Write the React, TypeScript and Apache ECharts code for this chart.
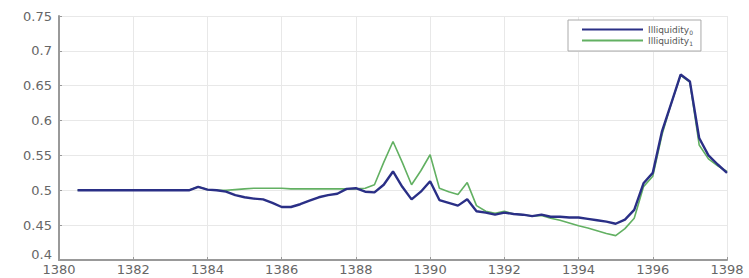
import React, { useEffect, useRef } from "react";
import * as echarts from "echarts";

const years: number[] = [];
for (let i = 0; i <= 70; i++) years.push(1380.5 + i * 0.25);

const illiquidity0: number[] = [
  0.5, 0.5, 0.5, 0.5, 0.5, 0.5, 0.5, 0.5, 0.5, 0.5, 0.5, 0.5, 0.5,
  0.505, 0.501, 0.5, 0.498, 0.493, 0.49, 0.488, 0.487, 0.482, 0.476, 0.476,
  0.48, 0.485, 0.49, 0.493, 0.495, 0.502, 0.503, 0.498, 0.497, 0.508, 0.527,
  0.505, 0.487, 0.498, 0.513, 0.486, 0.482, 0.478, 0.487, 0.47, 0.468, 0.465,
  0.468, 0.466, 0.465, 0.463, 0.465, 0.462, 0.462, 0.461, 0.461, 0.459, 0.457,
  0.455, 0.452, 0.458, 0.472, 0.51, 0.525, 0.585, 0.625, 0.666, 0.656, 0.575,
  0.55, 0.537, 0.525,
];

const illiquidity1: number[] = [
  0.5, 0.5, 0.5, 0.5, 0.5, 0.5, 0.5, 0.5, 0.5, 0.5, 0.5, 0.5, 0.5,
  0.505, 0.501, 0.5, 0.5, 0.501, 0.502, 0.503, 0.503, 0.503, 0.503, 0.502,
  0.502, 0.502, 0.502, 0.502, 0.502, 0.502, 0.502, 0.503, 0.508, 0.54, 0.57,
  0.54, 0.508, 0.528, 0.551, 0.503, 0.498, 0.494, 0.511, 0.478, 0.47, 0.467,
  0.47, 0.466, 0.465, 0.463, 0.464, 0.46, 0.457, 0.453, 0.449, 0.446, 0.442,
  0.438, 0.435, 0.445, 0.46, 0.505, 0.52, 0.58, 0.625, 0.665, 0.655, 0.565,
  0.545, 0.535, 0.527,
];

const seriesNames = ["Illiquidity0", "Illiquidity1"];

export default function App() {
  const ref = useRef<HTMLDivElement>(null);
  useEffect(() => {
    if (!ref.current) return;
    const chart = echarts.init(ref.current, undefined, { renderer: "svg" });
    const labelStyle = {
      color: "#666",
      fontFamily: "DejaVu Sans",
      fontSize: 13,
    };
    chart.setOption({
      animation: false,
      backgroundColor: "#fff",
      grid: { left: 59, right: 22, top: 16, bottom: 18, containLabel: false },
      legend: {
        data: seriesNames,
        orient: "vertical",
        left: 568,
        top: 20,
        padding: [5, 8, 5, 14],
        itemGap: 1,
        itemWidth: 61,
        itemHeight: 2,
        icon: "rect",
        borderColor: "#aaa",
        borderWidth: 1,
        borderRadius: 0,
        backgroundColor: "#fff",
        formatter: (name: string) => `{a|${name.slice(0, -1)}}{s|${name.slice(-1)}}`,
        textStyle: {
          color: "#555",
          fontFamily: "DejaVu Sans",
          fontSize: 9,
          rich: {
            a: { fontSize: 9, color: "#555", fontFamily: "DejaVu Sans" },
            s: { fontSize: 6, color: "#555", fontFamily: "DejaVu Sans", padding: [5, 0, 0, 0] },
          },
        },
      },
      xAxis: {
        type: "value",
        min: 1380,
        max: 1398,
        interval: 2,
        axisLine: { show: true, onZero: false, lineStyle: { color: "#999", width: 2 } },
        axisTick: { show: true, inside: true, length: 3, lineStyle: { color: "#999" } },
        axisLabel: { ...labelStyle, margin: 3, formatter: (v: number) => String(v) },
        splitLine: { show: true, lineStyle: { color: "#e8e8e8", width: 1 } },
      },
      yAxis: {
        type: "value",
        min: 0.4,
        max: 0.75,
        interval: 0.05,
        axisLine: { show: true, lineStyle: { color: "#999", width: 2 } },
        axisTick: { show: true, inside: true, length: 3, lineStyle: { color: "#999" } },
        axisLabel: {
          ...labelStyle,
          margin: 7,
          formatter: (v: number) => {
            const s = String(Math.round(v * 100) / 100);
            return v < 0.41 ? `{low|${s}}` : s;
          },
          rich: {
            low: { ...labelStyle, padding: [0, 0, 12, 0] },
          },
        },
        splitLine: { show: true, lineStyle: { color: "#e8e8e8", width: 1 } },
      },
      series: [
        {
          name: seriesNames[1],
          type: "line",
          data: years.map((y, i) => [y, illiquidity1[i]]),
          showSymbol: false,
          lineStyle: { color: "#62b062", width: 1.6 },
          itemStyle: { color: "#62b062" },
          z: 2,
        },
        {
          name: seriesNames[0],
          type: "line",
          data: years.map((y, i) => [y, illiquidity0[i]]),
          showSymbol: false,
          lineStyle: { color: "#2a2f86", width: 2.4 },
          itemStyle: { color: "#2a2f86" },
          z: 3,
        },
      ],
    });
    return () => chart.dispose();
  }, []);
  return (
    <div
      ref={ref}
      style={{ position: "fixed", left: 0, top: 0, width: 749, height: 278 }}
    />
  );
}
